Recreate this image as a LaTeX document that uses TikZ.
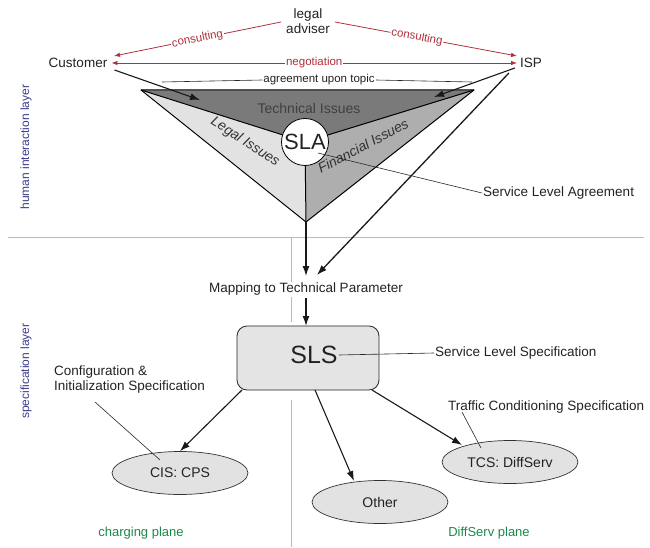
\documentclass[tikz,border=0pt]{standalone}
\usepackage{fontspec}
\setmainfont{Liberation Sans}
\usetikzlibrary{arrows.meta,shapes.geometric}
\definecolor{relred}{HTML}{B0303C}
\definecolor{layerblue}{HTML}{3C3C8C}
\definecolor{planegreen}{HTML}{1A8A4A}
\definecolor{sepgray}{HTML}{BBBBBB}
\definecolor{techfill}{HTML}{7A7A7A}
\definecolor{legalfill}{HTML}{E2E2E2}
\definecolor{finfill}{HTML}{AEAEAE}
\definecolor{boxfill}{HTML}{E4E4E4}
\definecolor{txt}{HTML}{222222}
\newcommand{\fsz}[1]{\fontsize{#1}{#1}\selectfont}
\begin{document}
\begin{tikzpicture}[x=1pt,y=-1pt,
  every node/.style={text=txt},
  lbl/.style={font=\fsz{13.5}, inner sep=1pt},
  small/.style={font=\fsz{11.5}, inner sep=1pt},
  layer/.style={font=\fsz{12}, text=layerblue, rotate=90, inner sep=0pt},
  plane/.style={font=\fsz{13}, text=planegreen, inner sep=0pt},
  relarrow/.style={draw=relred, line width=0.8pt, -{Latex[length=6pt,width=4.5pt]}},
  reltext/.style={font=\fsz{11.5}, text=relred, fill=white, inner sep=1pt, sloped},
  flow/.style={draw=black!90, line width=1.3pt, -{Latex[length=10pt,width=7pt]}},
  pointer/.style={draw=black!85, line width=0.6pt},
  sepline/.style={draw=sepgray, line width=1pt},
  spec/.style={ellipse, draw=black!80, line width=0.7pt, fill=legalfill,
    minimum width=136pt, minimum height=43pt, font=\fsz{14}, inner sep=0pt}
]
\useasboundingbox (0,0) rectangle (650,548);

% layer separators
\draw[sepline] (8,237) -- (644,237);
\draw[sepline] (291,237) -- (291,282);
\draw[sepline] (291,297) -- (291,322);
\draw[sepline] (291,400) -- (291,547);

% layer and plane labels
\node[layer] (hil) at (26,147) {human interaction layer};
\node[layer] (spl) at (26,371) {specification layer};
\node[plane] (chp) at (141,533) {charging plane};
\node[plane] (dsp) at (489,533) {DiffServ plane};

% parties
\node[lbl, align=center] (adv) at (308,21) {legal\\[1pt]adviser};
\node[lbl] (cust) at (78,63) {Customer};
\node[lbl] (isp) at (531,63) {ISP};

% relations between the parties
\coordinate (advl) at (281,22);
\coordinate (advr) at (335,22);
\coordinate (custr) at (114,56);
\coordinate (ispl) at (517,56);
\draw[relarrow] (advl) -- node[reltext, pos=0.5] {consulting} (custr);
\draw[relarrow] (advr) -- node[reltext, pos=0.45] {consulting} (ispl);
\draw[relarrow, {Latex[length=6pt,width=4.5pt]}-{Latex[length=6pt,width=4.5pt]}]
  (cust.east) ++(3,0) coordinate (negl) -- node[reltext, sloped=false] {negotiation} (isp.west -| 517,0) coordinate (negr);

% agreement note
\node[small] (agr) at (319,80) {agreement upon topic};
\coordinate (agrl) at (162,82);
\coordinate (agrr) at (472,82);
\draw[pointer] (agr.west) -- (agrl);
\draw[pointer] (agr.east) -- (agrr);

% SLA triangle
\coordinate (tl) at (141,90);
\coordinate (tr) at (474,90);
\coordinate (bt) at (306,222);
\coordinate (ctr) at (305,142);
\fill[techfill] (tl) -- (tr) -- (ctr) -- cycle;
\fill[legalfill] (tl) -- (ctr) -- (bt) -- cycle;
\fill[finfill] (tr) -- (ctr) -- (bt) -- cycle;
\draw[line width=1pt, line join=round] (tl) -- (tr) -- (bt) -- cycle;
\draw[line width=1pt] (tl) -- (ctr) -- (tr) (ctr) -- (bt);
\node[font=\fsz{14}, text=black!75] (tech) at (309,108) {Technical Issues};
\node[font=\fsz{14}\itshape, text=black!80, rotate=-33] (legal) at (245,142) {Legal Issues};
\node[font=\fsz{14}\itshape, text=black!80, rotate=28] (fin) at (363,146) {Financial Issues};
\node[circle, draw, line width=0.8pt, fill=white, minimum size=47pt, inner sep=0pt,
  font=\fsz{22}] (sla) at (ctr) {SLA};

% customer and ISP input into the triangle
\coordinate (cin) at (200,100);
\coordinate (iin) at (434,97);
\draw[flow, line width=1.1pt] (cust.east |- 0,70) ++(6,0) -- (cin);
\draw[flow, line width=1.1pt] (isp.west |- 0,68) ++(-4,0) -- (iin);

% SLA annotation
\node[lbl, anchor=west] (slatxt) at (482,193) {Service Level Agreement};
\draw[pointer] (318,153) -- (slatxt.west);

% mapping
\node[lbl] (map) at (306,289) {Mapping to Technical Parameter};
\draw[flow] (bt) -- (306,276);
\draw[flow] (isp.south west) ++(-10,4) -- (317,275);
\draw[flow] (map.south) ++(0,2) -- (306,326);

% SLS box
\node[draw=black!85, line width=0.8pt, fill=boxfill, rounded corners=10pt,
  minimum width=142pt, minimum height=64pt] (slsbox) at (308,358) {};
\node[font=\fsz{25}, inner sep=1pt] (sls) at (314,355) {SLS};
\node[lbl, anchor=west] (slstxt) at (434,353) {Service Level Specification};
\draw[pointer] (sls.east) -- (slstxt.west);

% specifications
\node[spec] (cis) at (180,473) {CIS: CPS};
\node[spec] (oth) at (380,502) {Other};
\node[spec] (tcs) at (510,462) {TCS: DiffServ};
\draw[flow, line width=1.1pt] (242,390) -- (cis.north);
\draw[flow, line width=1.1pt] (315,390) -- (354,481);
\draw[flow, line width=1.1pt] (372,390) -- (462,445);

\node[lbl, anchor=north west, align=left] (cfg) at (53,365)
  {Configuration \&\\[1pt]Initialization Specification};
\draw[pointer] (95,402) -- (160,460);
\node[lbl, anchor=west] (tcstxt) at (447,407) {Traffic Conditioning Specification};
\draw[pointer] (462,412) -- (481,448);
\end{tikzpicture}
\end{document}
